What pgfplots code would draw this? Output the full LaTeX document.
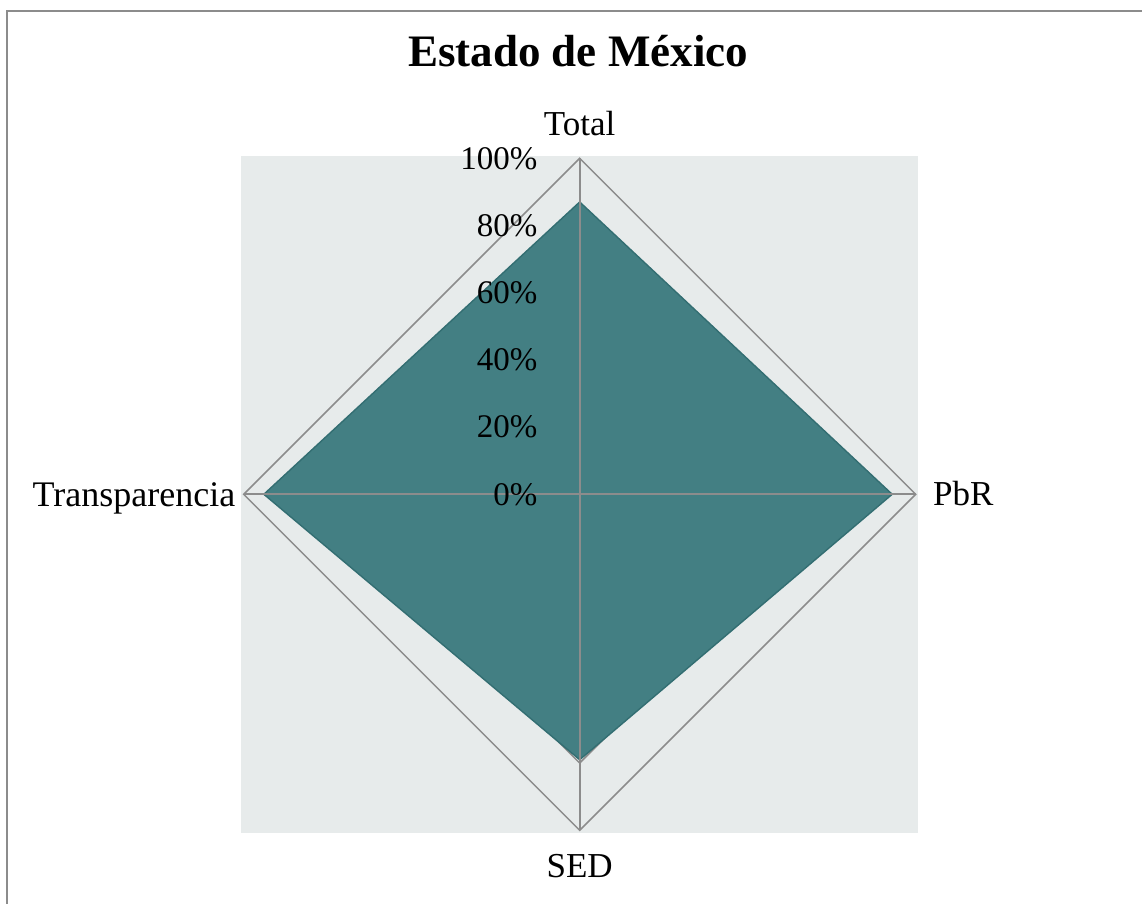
\documentclass[border=0pt]{standalone}
\usepackage{fontspec}
\setmainfont{Liberation Serif}
\usepackage{pgfplots}
\pgfplotsset{compat=1.18}
\definecolor{bgc}{HTML}{E7EBEB}
\definecolor{fillc}{HTML}{437F83}
\definecolor{edgec}{HTML}{336E72}
\definecolor{gridc}{HTML}{8C8C8C}
\begin{document}
\begin{tikzpicture}
\useasboundingbox (0,0) rectangle (571pt,452pt);
\draw[gridc, line width=1.1pt] (3.5pt,-2pt) -- (3.5pt,446.5pt) -- (573pt,446.5pt);
\node[anchor=base, inner sep=0, font=\fontsize{22.5}{26}\selectfont\bfseries] at (289pt,418.5pt) {Estado de México};
\begin{axis}[
  at={(120.5pt,35.5pt)}, anchor=south west,
  width=338.7pt, height=338.7pt, scale only axis,
  xmin=-100.8, xmax=100.8, ymin=-100.8, ymax=100.8,
  axis background/.style={fill=bgc},
  axis line style={draw=none},
  xtick=\empty, ytick=\empty,
  clip=false,
]
% grid diamonds
\addplot[gridc, line width=0.75pt] coordinates {(0,100) (100,0) (0,-100) (-100,0)} -- cycle;
\addplot[gridc, line width=0.75pt] coordinates {(0,80) (80,0) (0,-80) (-80,0)} -- cycle;
\addplot[gridc, line width=0.75pt] coordinates {(0,60) (60,0) (0,-60) (-60,0)} -- cycle;
\addplot[gridc, line width=0.75pt] coordinates {(0,40) (40,0) (0,-40) (-40,0)} -- cycle;
\addplot[gridc, line width=0.75pt] coordinates {(0,20) (20,0) (0,-20) (-20,0)} -- cycle;
% data: Total, PbR, SED, Transparencia
\addplot[fill=fillc, draw=edgec, line width=0.7pt] coordinates {(0,87) (93,0) (0,-79) (-94,0)} -- cycle;
% spokes
\addplot[gridc, line width=1pt] coordinates {(0,0) (0,100)};
\addplot[gridc, line width=1pt] coordinates {(0,0) (100,0)};
\addplot[gridc, line width=1pt] coordinates {(0,0) (0,-100)};
\addplot[gridc, line width=1pt] coordinates {(0,0) (-100,0)};
% tick labels
\foreach \v/\t in {0/0\%,20/20\%,40/40\%,60/60\%,80/80\%,100/100\%}{
  \edef\temp{\noexpand\node[anchor=east, inner sep=0, xshift=-21pt, font=\noexpand\fontsize{16.5}{19}\noexpand\selectfont] at (axis cs:0,\v) {\t};}
  \temp
}
% category labels
\node[anchor=base, inner sep=0, yshift=11.5pt, font=\fontsize{17.5}{20}\selectfont] at (axis cs:0,100) {Total};
\node[anchor=base west, inner sep=0, xshift=8.5pt, yshift=-5.5pt, font=\fontsize{17.5}{20}\selectfont] at (axis cs:100,0) {PbR};
\node[anchor=base, inner sep=0, yshift=-23.5pt, font=\fontsize{17.5}{20}\selectfont] at (axis cs:0,-100) {SED};
\node[anchor=base east, inner sep=0, xshift=-4pt, yshift=-6.3pt, font=\fontsize{18}{20}\selectfont] at (axis cs:-100,0) {Transparencia};
\end{axis}
\end{tikzpicture}
\end{document}
